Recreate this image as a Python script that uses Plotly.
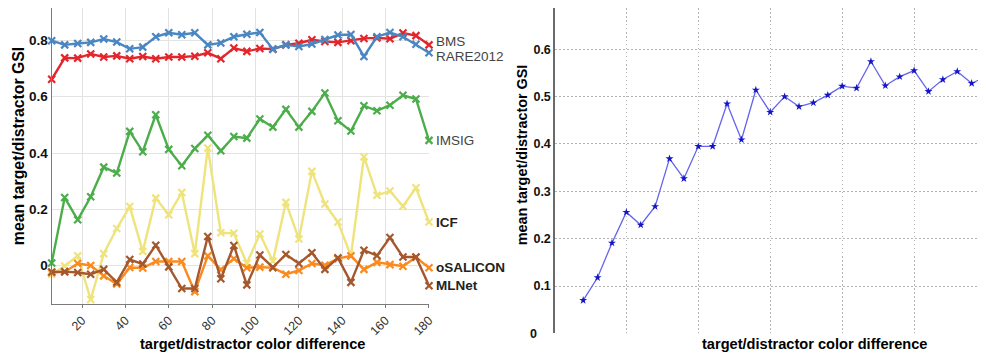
import plotly.graph_objects as go

# color difference bins
diff = [6, 12, 18, 24, 30, 36, 42, 48, 54, 60, 66, 72, 78, 84, 90,
        96, 102, 108, 114, 120, 126, 132, 138, 144, 150, 156, 162, 168, 174, 180]

bms = [0.662, 0.738, 0.737, 0.752, 0.741, 0.745, 0.735, 0.743, 0.735, 0.741,
       0.741, 0.744, 0.756, 0.735, 0.773, 0.761, 0.771, 0.769, 0.784, 0.790,
       0.802, 0.796, 0.793, 0.799, 0.807, 0.809, 0.806, 0.826, 0.817, 0.784]
rare2012 = [0.799, 0.784, 0.789, 0.793, 0.805, 0.794, 0.770, 0.776, 0.813, 0.827,
            0.820, 0.827, 0.784, 0.791, 0.813, 0.822, 0.828, 0.769, 0.784, 0.778,
            0.787, 0.803, 0.819, 0.821, 0.743, 0.813, 0.828, 0.813, 0.786, 0.756]
imsig = [0.010, 0.242, 0.163, 0.245, 0.350, 0.329, 0.477, 0.405, 0.536, 0.413,
         0.355, 0.416, 0.463, 0.408, 0.459, 0.453, 0.521, 0.492, 0.555, 0.492,
         0.548, 0.613, 0.515, 0.478, 0.568, 0.550, 0.570, 0.605, 0.592, 0.445]
icf = [-0.030, -0.001, 0.035, -0.120, 0.043, 0.132, 0.210, 0.051, 0.240, 0.181,
       0.260, 0.043, 0.418, 0.117, 0.115, 0.009, 0.113, 0.016, 0.225, 0.095,
       0.335, 0.219, 0.155, 0.035, 0.387, 0.250, 0.265, 0.211, 0.277, 0.155]
osalicon = [-0.024, -0.022, 0.008, 0.001, -0.036, -0.065, -0.006, -0.008, 0.015, 0.015,
            0.015, -0.092, 0.035, -0.014, 0.025, -0.007, -0.005, -0.007, -0.030, -0.017,
            0.008, 0.002, 0.025, 0.035, -0.013, 0.012, 0.004, -0.002, 0.030, -0.007]
mlnet = [-0.022, -0.021, -0.024, -0.030, -0.013, -0.059, 0.022, 0.006, 0.073, -0.004,
         -0.081, -0.081, 0.104, -0.046, 0.072, -0.068, 0.038, -0.006, 0.040, 0.008,
         0.046, -0.013, 0.028, -0.059, 0.055, 0.036, 0.100, 0.031, 0.031, -0.071]

# right panel: mean GSI per bin
gsi = [0.070, 0.118, 0.191, 0.256, 0.229, 0.268, 0.369, 0.327, 0.395, 0.395,
       0.485, 0.409, 0.514, 0.467, 0.500, 0.479, 0.487, 0.503, 0.522, 0.518,
       0.574, 0.523, 0.542, 0.555, 0.511, 0.536, 0.553, 0.528, 0.542]

models = [
    ("BMS", bms, "#e3262b", False, 3),
    ("RARE2012", rare2012, "#4a86c2", False, -4),
    ("IMSIG", imsig, "#4cad4b", False, 0),
    ("ICF", icf, "#efe37c", True, 0),
    ("oSALICON", osalicon, "#fb8a1f", True, 0),
    ("MLNet", mlnet, "#a5582d", True, 0),
]

W, H = 986, 355
def px(x):
    return x / W
def py(y):
    return 1 - y / H

fig = go.Figure()
for name, vals, col, bold, shift in models:
    fig.add_trace(go.Scatter(
        x=diff, y=vals, mode="lines+markers", name=name,
        line=dict(color=col, width=2.4),
        marker=dict(symbol="x-thin", size=7, line=dict(color=col, width=2.2)),
        cliponaxis=False, xaxis="x", yaxis="y"))
    fig.add_annotation(
        x=diff[-1], y=vals[-1], xref="x", yref="y", text=name, showarrow=False,
        xanchor="left", xshift=5, yshift=shift,
        font=dict(family="Liberation Sans", size=13.5,
                  color="#222" if bold else "#444",
                  weight="bold" if bold else "normal"))

fig.add_trace(go.Scatter(
    x=diff[:len(gsi)], y=gsi, mode="lines+markers", name="GSI",
    line=dict(color="#6464ee", width=1.3),
    marker=dict(symbol="star", size=6, color="#1414c8"),
    cliponaxis=False, xaxis="x2", yaxis="y2"))

fig.update_layout(
    width=W, height=H, margin=dict(l=0, r=0, t=0, b=0),
    paper_bgcolor="white", plot_bgcolor="white", showlegend=False,
    font=dict(family="Liberation Sans", color="#111"),
    xaxis=dict(domain=[px(44), px(424)], range=[6, 180],
               tickvals=[20, 40, 60, 80, 100, 120, 140, 160, 180],
               tickangle=-45, tickfont=dict(size=12.5, color="#333"),
               showgrid=True, gridcolor="#e3e3e3", gridwidth=1,
               showline=True, linecolor="#7a7a7a", linewidth=1.2,
               ticks="outside", ticklen=3, tickcolor="#7a7a7a", zeroline=False,
               anchor="y"),
    yaxis=dict(domain=[py(302), 1], range=[-0.136, 0.915],
               tickvals=[0, 0.2, 0.4, 0.6, 0.8], ticktext=["0", "0.2", "0.4", "0.6", "0.8"],
               tickfont=dict(size=13.5, color="#111", weight="bold"),
               showgrid=True, gridcolor="#e3e3e3", gridwidth=1,
               showline=True, linecolor="#7a7a7a", linewidth=1.2,
               ticks="", zeroline=False, anchor="x"),
    xaxis2=dict(domain=[px(551), 1], range=[-5.72, 174.4],
                tick0=24, dtick=30, showticklabels=False,
                showgrid=True, gridcolor="#b4b4b4", gridwidth=1.2, griddash="1.5px,2.5px",
                showline=False, zeroline=False, ticks="", anchor="y2"),
    yaxis2=dict(domain=[py(332), 1], range=[0, 0.687],
                tickvals=[0, 0.1, 0.2, 0.3, 0.4, 0.5, 0.6],
                ticktext=["0\u00a0\u00a0\u00a0\u00a0", "0.1", "0.2", "0.3", "0.4", "0.5", "0.6"],
                tickfont=dict(size=12.5, color="#111", weight="bold"),
                showgrid=True, gridcolor="#b4b4b4", gridwidth=1.2, griddash="1.5px,2.5px",
                showline=True, linecolor="#6a6a6a", linewidth=1.5,
                ticks="", zeroline=False, anchor="x2"),
)

title_font = dict(family="Liberation Sans", size=14.6, color="#000", weight="bold")
fig.add_annotation(x=px(246), y=py(343), xref="paper", yref="paper", showarrow=False,
                   xanchor="center", yanchor="middle",
                   text="target/distractor color difference", font=title_font)
fig.add_annotation(x=px(812), y=py(343), xref="paper", yref="paper", showarrow=False,
                   xanchor="center", yanchor="middle",
                   text="target/distractor color difference", font=title_font)
fig.add_annotation(x=px(10), y=py(141), xref="paper", yref="paper", showarrow=False,
                   xanchor="center", yanchor="middle",
                   text="mean target/distractor GSI", textangle=-90,
                   font=dict(family="Liberation Sans", size=15.8, color="#000", weight="bold"))
fig.add_annotation(x=px(518), y=py(150), xref="paper", yref="paper", showarrow=False,
                   xanchor="center", yanchor="middle",
                   text="mean target/distractor GSI", textangle=-90,
                   font=dict(family="Liberation Sans", size=14.4, color="#000", weight="bold"))

fig.write_html("out.html")
